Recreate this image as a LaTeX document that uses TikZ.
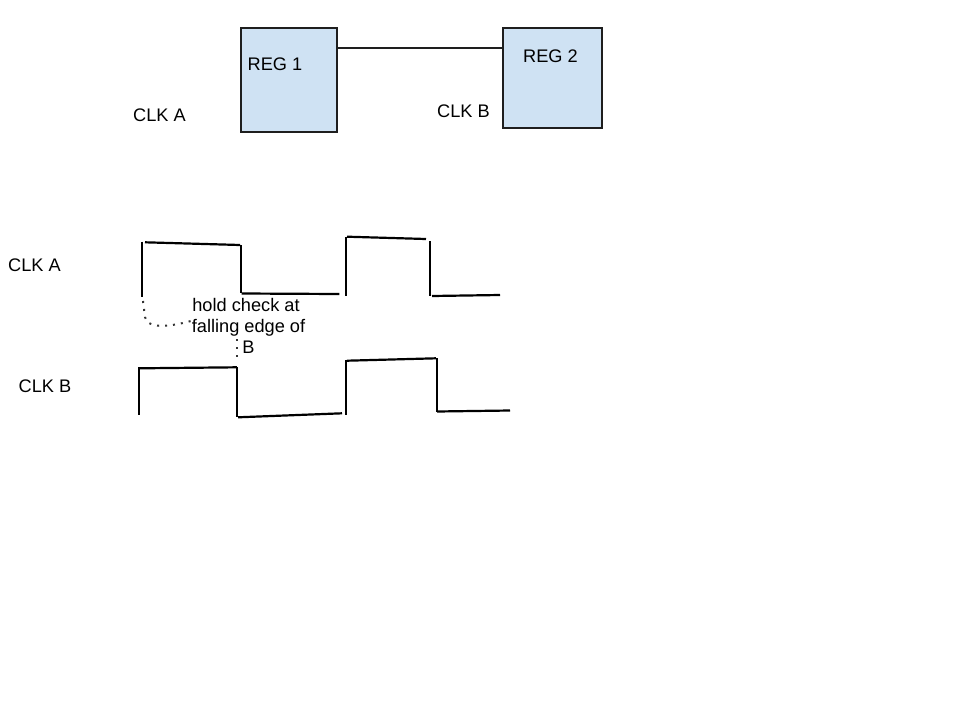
\documentclass[tikz,border=0pt]{standalone}
\usepackage{fontspec}
\setmainfont{Liberation Sans}
\definecolor{regfill}{RGB}{207,226,243}
\definecolor{edge}{RGB}{30,30,30}
\begin{document}
\begin{tikzpicture}[x=1pt,y=-1pt,
  lbl/.style={font=\fontsize{18.2}{21}\selectfont, inner sep=0pt, text height=13pt, text depth=0pt},
  regbox/.style={draw=edge, fill=regfill, line width=2pt, inner sep=0pt},
  wave/.style={draw=black, line width=2.2pt},
  dotline/.style={draw=black!80, line width=2pt, dash pattern=on 2pt off 6pt}]
\useasboundingbox (0,0) rectangle (960,720);
\fill[white] (0,0) rectangle (960,720);
% registers
\node[regbox, minimum width=96pt, minimum height=104pt] (reg1) at (289,80) {};
\node[regbox, minimum width=99pt, minimum height=100pt] (reg2) at (552.5,78) {};
\node[lbl] (r1t) at (275,64) {REG 1};
\node[lbl] (r2t) at (550.5,55.5) {REG 2};
\draw[edge, line width=2pt] ([yshift=-21pt]reg1.north east) -- ([yshift=-21pt]reg2.north west);
\node[lbl] (clka1) at (159.5,115) {CLK A};
\node[lbl] (clkb1) at (463.5,111) {CLK B};
% waveform labels
\node[lbl] (clka2) at (34.5,265) {CLK A};
\node[lbl] (clkb2) at (45,386) {CLK B};
% CLK A waveform
\draw[wave] (141.7,241.7) -- (141.7,296.7);
\draw[wave] (145,242.3) -- (240,245);
\draw[wave] (240.7,245) -- (240.7,293);
\draw[wave] (241.7,293.5) -- (339.3,294);
\draw[wave] (346,236.7) -- (346,296);
\draw[wave] (347,236.7) -- (426,239);
\draw[wave] (430,241) -- (430,296);
\draw[wave] (432,296) -- (500,295);
% CLK B waveform
\draw[wave] (139.3,367.3) -- (139.3,415);
\draw[wave] (140,368.3) -- (237,367.3);
\draw[wave] (237.3,367) -- (237.3,417.3);
\draw[wave] (238,417.3) -- (342,413.3);
\draw[wave] (346,360) -- (346,415);
\draw[wave] (347,360.7) -- (436,358.3);
\draw[wave] (436.7,358) -- (436.7,411.7);
\draw[wave] (437,411.5) -- (510,410.5);
% hold annotation
\draw[dotline] (143,301) -- (145,317) .. controls (147,328) and (165,328) .. (191,321);
\draw[dotline] (237,339) -- (237,359);
\node[lbl] (hold1) at (246,304.5) {hold check at};
\node[lbl] (hold2) at (248.5,325.5) {falling edge of};
\node[lbl] (hold3) at (248.5,347) {B};
\end{tikzpicture}
\end{document}
